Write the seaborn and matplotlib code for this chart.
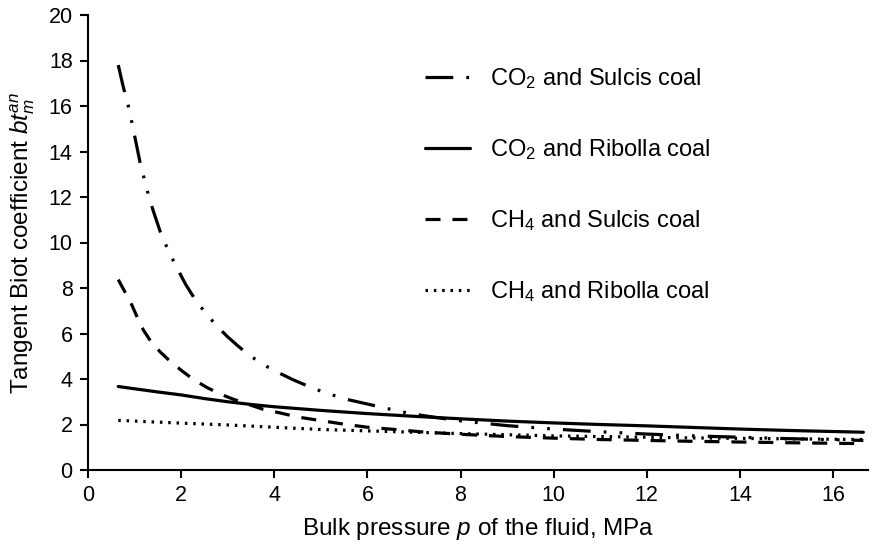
import matplotlib
matplotlib.use("Agg")
import matplotlib.pyplot as plt
import seaborn as sns
import pandas as pd

# Data
p_co2_sulcis = [0.65, 0.75, 0.865, 0.94, 1.0, 1.12, 1.29, 1.4, 1.58, 1.75, 1.87, 2.1, 2.33, 2.55,
                2.76, 3.0, 3.25, 3.5, 3.73, 4.0, 4.4, 4.87, 5.48, 6.0, 6.73, 7.05, 7.5, 8.0,
                9.0, 10.0, 11.0, 12.0, 13.0, 14.0, 15.0, 16.65]
b_co2_sulcis = [17.8, 16.9, 16.0, 15.3, 14.7, 13.5, 12.15, 11.4, 10.3, 9.55, 9.04, 8.15, 7.4,
                6.85, 6.34, 5.85, 5.4, 5.0, 4.67, 4.37, 3.97, 3.56, 3.14, 2.9, 2.56, 2.44, 2.3,
                2.16, 1.95, 1.8, 1.68, 1.58, 1.5, 1.44, 1.38, 1.3]

p_co2_ribolla = [0.65, 1.0, 1.5, 2.0, 2.5, 3.0, 3.5, 4.0, 5.0, 6.0, 7.0, 8.0, 9.0, 10.0, 11.0,
                 12.0, 13.0, 14.0, 15.0, 16.65]
b_co2_ribolla = [3.67, 3.57, 3.43, 3.3, 3.14, 3.0, 2.88, 2.78, 2.62, 2.48, 2.36, 2.25, 2.15, 2.07,
                 2.0, 1.94, 1.87, 1.8, 1.74, 1.66]

p_ch4_sulcis = [0.65, 0.8, 0.94, 1.06, 1.19, 1.35, 1.55, 1.78, 2.01, 2.25, 2.55, 2.85, 3.12, 3.45,
                3.76, 4.1, 4.5, 5.0, 5.48, 6.0, 6.6, 7.2, 8.1, 9.0, 10.0, 11.0, 12.0, 13.0,
                14.0, 15.0, 16.65]
b_ch4_sulcis = [8.37, 7.8, 7.26, 6.7, 6.15, 5.65, 5.19, 4.75, 4.37, 4.0, 3.63, 3.33, 3.11, 2.88,
                2.67, 2.52, 2.33, 2.17, 2.02, 1.88, 1.78, 1.67, 1.56, 1.47, 1.4, 1.34, 1.3,
                1.26, 1.23, 1.2, 1.16]

p_ch4_ribolla = [0.65, 1.0, 2.0, 3.0, 4.0, 5.0, 6.0, 7.0, 8.0, 9.0, 10.0, 11.0, 12.0, 13.0, 14.0,
                 15.0, 16.65]
b_ch4_ribolla = [2.18, 2.15, 2.06, 1.98, 1.88, 1.78, 1.72, 1.66, 1.6, 1.55, 1.5, 1.47, 1.44, 1.41,
                 1.39, 1.37, 1.34]

labels = ["CO$_2$ and Sulcis coal", "CO$_2$ and Ribolla coal",
          "CH$_4$ and Sulcis coal", "CH$_4$ and Ribolla coal"]

sns.set_theme(style="ticks")
plt.rcParams['font.family'] = ['Liberation Sans', 'DejaVu Sans']
plt.rcParams['mathtext.fontset'] = 'custom'
plt.rcParams['mathtext.rm'] = 'Liberation Sans'
plt.rcParams['mathtext.it'] = 'Liberation Sans:italic'
plt.rcParams['lines.scale_dashes'] = False
plt.rcParams['text.color'] = 'black'
plt.rcParams['axes.labelcolor'] = 'black'
plt.rcParams['xtick.color'] = 'black'
plt.rcParams['ytick.color'] = 'black'

fig = plt.figure(figsize=(8.85, 5.49), dpi=100)
ax = fig.add_axes([88/885, 1 - 470/549, (868-88)/885, (470-15)/549])

series = [
    (p_co2_sulcis, b_co2_sulcis, (0, (20, 9.4, 2, 9.4, 2, 9.4))),
    (p_co2_ribolla, b_co2_ribolla, '-'),
    (p_ch4_sulcis, b_ch4_sulcis, (0, (10.8, 8.6))),
    (p_ch4_ribolla, b_ch4_ribolla, (0, (1.8, 4.2))),
]
for (px, py, ls), lab in zip(series, labels):
    df = pd.DataFrame({"p": px, "b": py})
    sns.lineplot(data=df, x="p", y="b", ax=ax, color="black", linewidth=2.3,
                 linestyle=ls, label=lab, sort=False)

ax.set_xlim(0, 16.75)
ax.set_ylim(0, 20)
ax.set_xticks(range(0, 17, 2))
ax.set_yticks(range(0, 21, 2))
for s in ['top', 'right']:
    ax.spines[s].set_visible(False)
for s in ['left', 'bottom']:
    ax.spines[s].set_linewidth(1.5)
    ax.spines[s].set_color('black')
ax.tick_params(axis='both', direction='out', length=6, width=1.5, labelsize=15.5,
               colors='black', pad=5)
ax.set_xlabel("Bulk pressure $\\it{p}$ of the fluid, MPa", fontsize=17.5, labelpad=7)
ax.set_ylabel("Tangent Biot coefficient $bt_m^{an}$", fontsize=17.5, labelpad=8)

leg = ax.legend(loc='center left', bbox_to_anchor=((425-88)/780, (470-185)/455),
                frameon=False, fontsize=17, labelspacing=1.95, handlelength=1.9,
                handletextpad=0.85, borderpad=0, borderaxespad=0)
fig.savefig("out.png", dpi=100)
